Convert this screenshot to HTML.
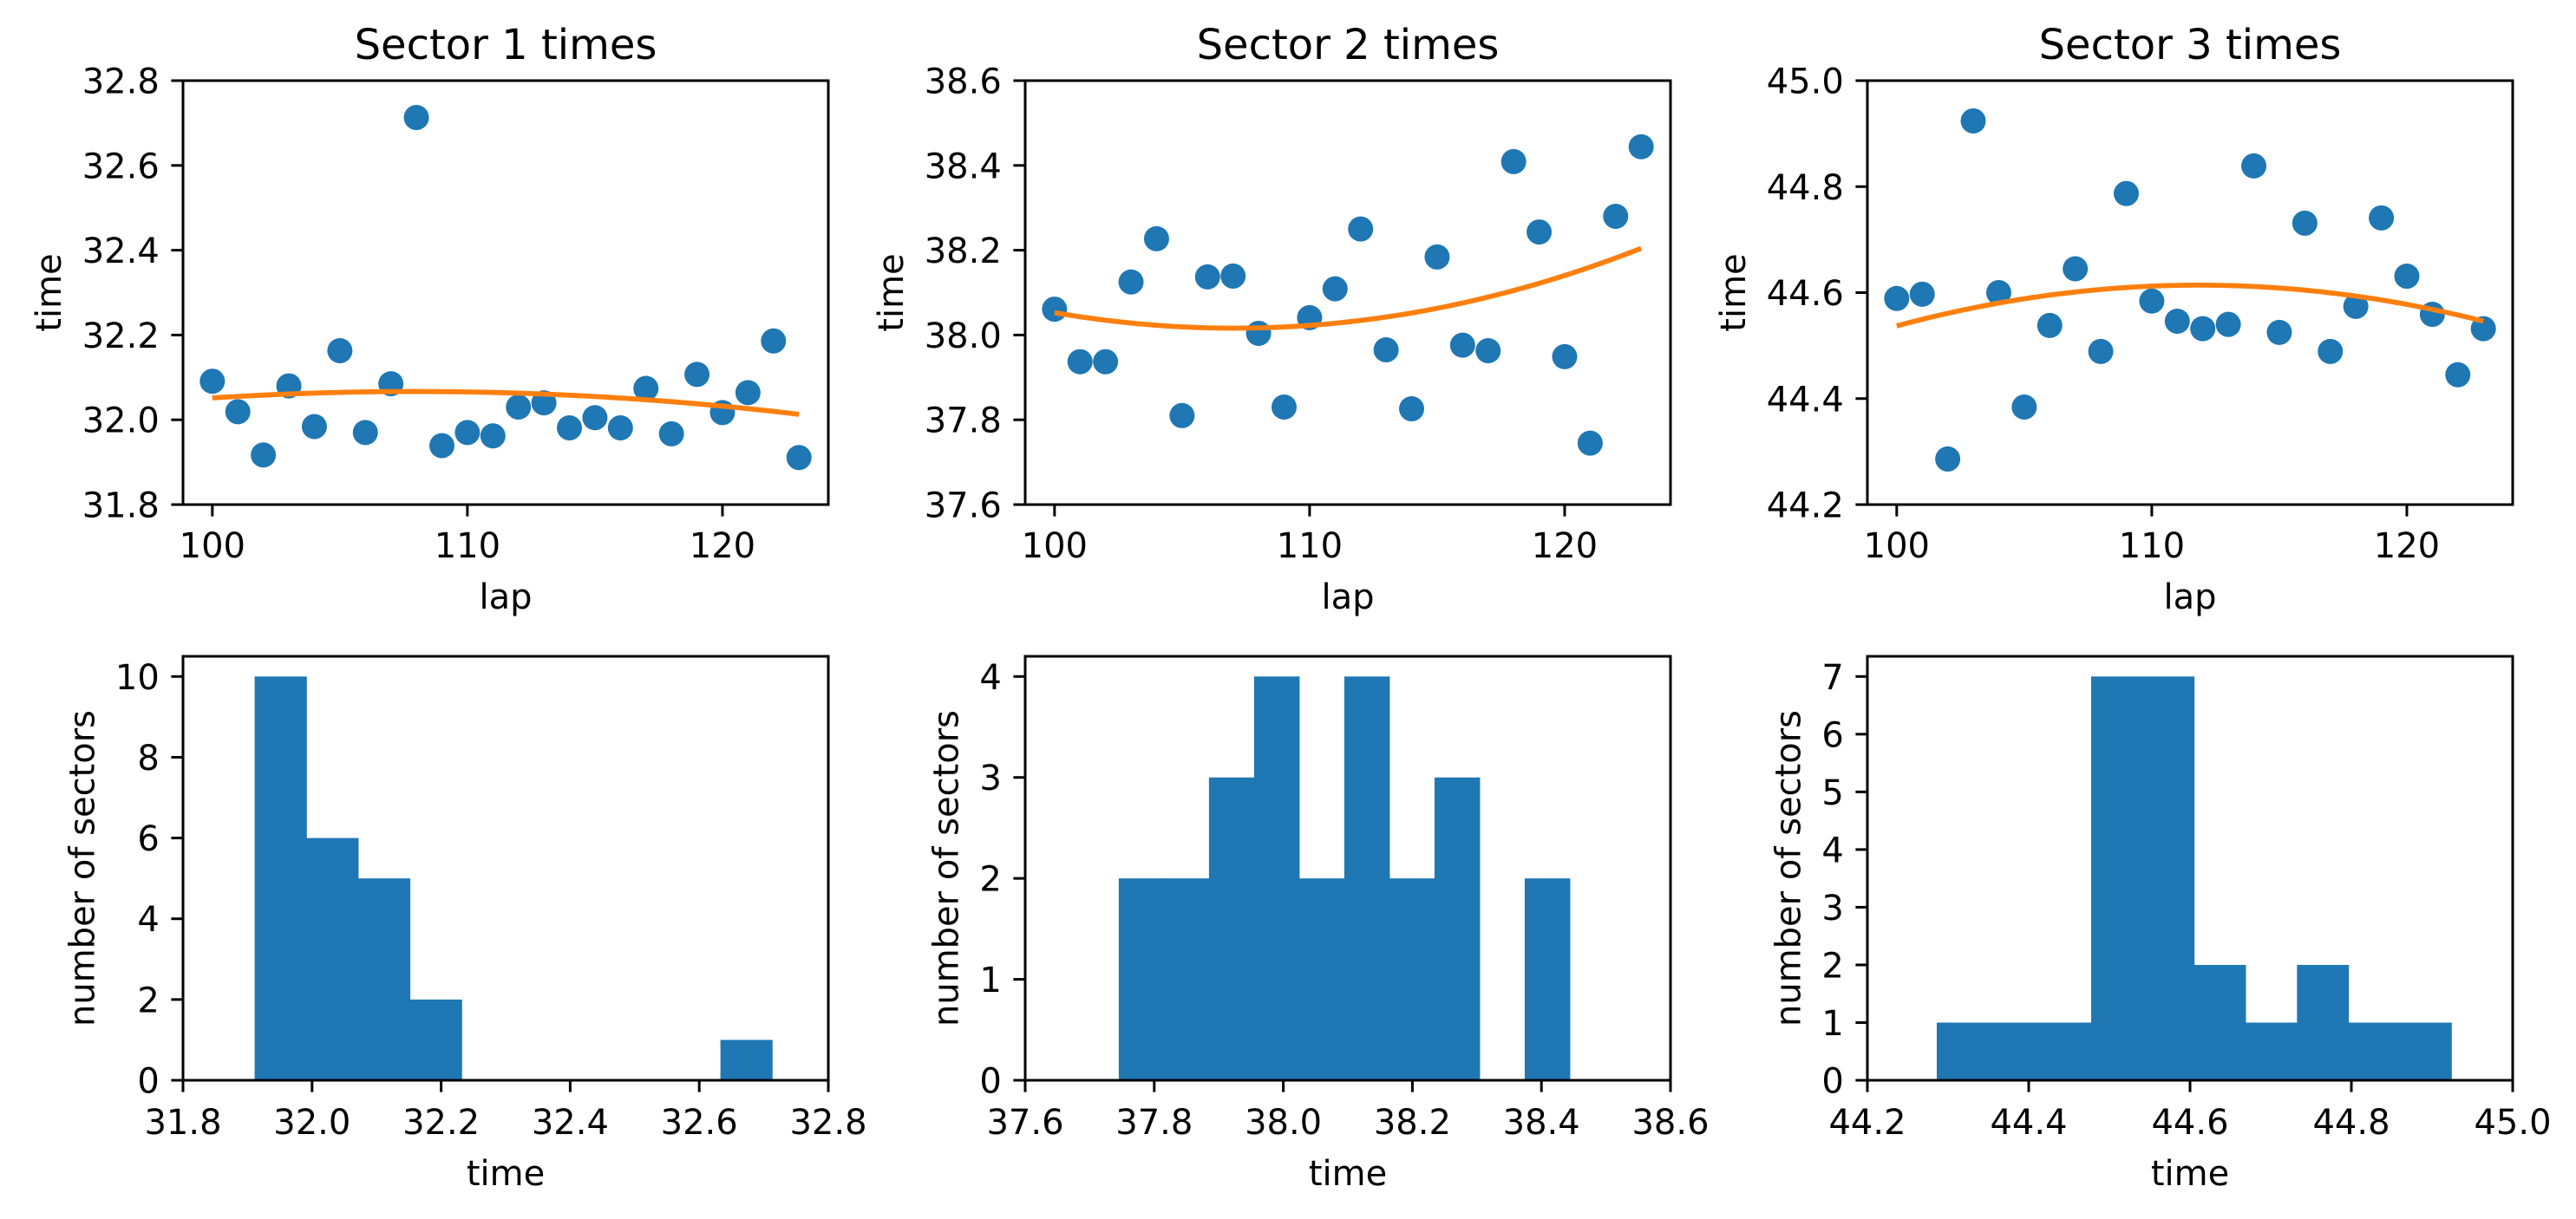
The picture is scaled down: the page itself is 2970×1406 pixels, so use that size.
<!DOCTYPE html>
<html><head><meta charset="utf-8"><style>
html,body{margin:0;padding:0;background:#fff;}
svg{display:block;font-family:"DejaVu Sans","Liberation Sans",sans-serif;}
</style></head><body>
<svg id="fig" width="2970" height="1406" viewBox="0 0 2970 1406" xmlns="http://www.w3.org/2000/svg"></svg>
<script>
const laps = [100,101,102,103,104,105,106,107,108,109,110,111,112,113,114,115,116,117,118,119,120,121,122,123];
const sector1Times = [32.091,32.019,31.917,32.080,31.984,32.163,31.970,32.085,32.713,31.939,31.970,31.962,32.030,32.040,31.981,32.005,31.981,32.074,31.967,32.107,32.017,32.064,32.186,31.911];
const sector2Times = [38.061,37.937,37.937,38.125,38.227,37.810,38.137,38.139,38.004,37.830,38.041,38.109,38.250,37.965,37.826,38.184,37.976,37.963,38.409,38.243,37.949,37.745,38.280,38.444];
const sector3Times = [44.589,44.597,44.286,44.924,44.600,44.384,44.538,44.645,44.489,44.787,44.584,44.546,44.532,44.540,44.839,44.525,44.731,44.489,44.574,44.741,44.631,44.559,44.445,44.532];
const sectorTitles = ["Sector 1 times","Sector 2 times","Sector 3 times"];
const lapTicks = [100,110,120];
const timeRanges = [[31.8,32.8],[37.6,38.6],[44.2,45.0]];
const timeTickLabels = [["31.8","32.0","32.2","32.4","32.6","32.8"],["37.6","37.8","38.0","38.2","38.4","38.6"],["44.2","44.4","44.6","44.8","45.0"]];
const countTicks = [[0,2,4,6,8,10],[0,1,2,3,4],[0,1,2,3,4,5,6,7]];
const binCount = 10;

const NS="http://www.w3.org/2000/svg";
const svg=document.getElementById('fig');
const BLUE="#1f77b4", ORANGE="#ff7f0e";
const FS=40, TFS=48, TICK=13.6, PAD=13.6;
const colX=[211,1182,2153], AW=744, rowY=[93,757], AH=489;

function mk(tag,attrs,parent){const e=document.createElementNS(NS,tag);for(const k in attrs)e.setAttribute(k,attrs[k]);(parent||svg).appendChild(e);return e;}
function txt(s,attrs,parent){const e=mk('text',attrs,parent);e.textContent=s;return e;}

function polyfit2(xs,ys){
  let S=[0,0,0,0,0],T=[0,0,0];
  for(let i=0;i<xs.length;i++){let x=xs[i]-111.5,p=1;for(let k=0;k<5;k++){S[k]+=p;if(k<3)T[k]+=p*ys[i];p*=x;}}
  const A=[[S[0],S[1],S[2],T[0]],[S[1],S[2],S[3],T[1]],[S[2],S[3],S[4],T[2]]];
  for(let i=0;i<3;i++){for(let j=i+1;j<3;j++){const f=A[j][i]/A[i][i];for(let k=i;k<4;k++)A[j][k]-=f*A[i][k];}}
  const c=[0,0,0];for(let i=2;i>=0;i--){let s=A[i][3];for(let k=i+1;k<3;k++)s-=A[i][k]*c[k];c[i]=s/A[i][i];}
  return x=>{const t=x-111.5;return c[0]+c[1]*t+c[2]*t*t;};
}

function yLabel(g,label,left,top,maxW){
  const x=left-TICK-PAD-maxW-15.6-9;
  const t=txt(label,{x:x,y:top+AH/2,'font-size':FS,'text-anchor':'middle',transform:`rotate(-90 ${x} ${top+AH/2})`},g);
  
  
}

const allTimes=[sector1Times,sector2Times,sector3Times];
allTimes.forEach((times,si)=>{
  const L=colX[si], T0=rowY[0], T1=rowY[1];
  const [tmin,tmax]=timeRanges[si];
  // ---------- scatter ----------
  const g=mk('g',{});
  
  
  const xmin=laps[0]-(laps[laps.length-1]-laps[0])*0.05, xmax=laps[laps.length-1]+(laps[laps.length-1]-laps[0])*0.05;
  const sx=v=>L+(v-xmin)/(xmax-xmin)*AW;
  const sy=v=>T0+AH-(v-tmin)/(tmax-tmin)*AH;
  const clipId='c'+si;
  const cp=mk('clipPath',{id:clipId},g);mk('rect',{x:L,y:T0,width:AW,height:AH},cp);
  const fit=polyfit2(laps,times);
  const pg=mk('g',{'clip-path':`url(#${clipId})`},g);
  laps.forEach((lp,i)=>{
    const c=mk('circle',{cx:sx(lp),cy:sy(times[i]),r:14.5,fill:BLUE},pg);
    
    
  });
  let d='';for(let k=0;k<=100;k++){const x=laps[0]+(laps[laps.length-1]-laps[0])*k/100;d+=(k?'L':'M')+sx(x).toFixed(2)+','+sy(fit(x)).toFixed(2);}
  const fl=mk('path',{d:d,fill:'none',stroke:ORANGE,'stroke-width':5.8},pg);
  
  
  mk('rect',{x:L,y:T0,width:AW,height:AH,fill:'none',stroke:'#000','stroke-width':3},g);
  lapTicks.forEach(v=>{
    const x=sx(v);mk('line',{x1:x,x2:x,y1:T0+AH,y2:T0+AH+TICK,stroke:'#000','stroke-width':3},g);
    const t=txt(String(v),{x:x,y:T0+AH+61,'font-size':FS,'text-anchor':'middle'},g);
    
    
  });
  let maxW=0;
  timeTickLabels[si].forEach(s=>{
    const v=parseFloat(s),y=sy(v);
    mk('line',{x1:L-TICK,x2:L,y1:y,y2:y,stroke:'#000','stroke-width':3},g);
    const t=txt(s,{x:L-TICK-PAD,y:y+14.5,'font-size':FS,'text-anchor':'end'},g);
    
    
    maxW=Math.max(maxW,t.getComputedTextLength());
  });
  const ti=txt(sectorTitles[si],{x:L+AW/2,y:T0-25,'font-size':TFS,'text-anchor':'middle'},g);
  
  
  const xl=txt('lap',{x:L+AW/2,y:T0+AH+120,'font-size':FS,'text-anchor':'middle'},g);
  
  
  yLabel(g,'time',L,T0,maxW);

  // ---------- histogram ----------
  const h=mk('g',{});
  
  
  const mn=Math.min(...times), mx=Math.max(...times), bw=(mx-mn)/binCount;
  const counts=new Array(binCount).fill(0);
  times.forEach(t=>{let b=Math.floor((t-mn)/bw);if(b>=binCount)b=binCount-1;counts[b]++;});
  const cmax=Math.max(...counts)*1.05;
  const hx=v=>L+(v-tmin)/(tmax-tmin)*AW;
  const hy=v=>T1+AH-v/cmax*AH;
  counts.forEach((c,b)=>{
    if(!c)return;
    const x0=hx(mn+b*bw),x1=hx(mn+(b+1)*bw);
    const r=mk('rect',{x:x0,y:hy(c),width:x1-x0+0.5,height:hy(0)-hy(c),fill:BLUE},h);
    
    
  });
  mk('rect',{x:L,y:T1,width:AW,height:AH,fill:'none',stroke:'#000','stroke-width':3},h);
  timeTickLabels[si].forEach(s=>{
    const x=hx(parseFloat(s));
    mk('line',{x1:x,x2:x,y1:T1+AH,y2:T1+AH+TICK,stroke:'#000','stroke-width':3},h);
    const t=txt(s,{x:x,y:T1+AH+62,'font-size':FS,'text-anchor':'middle'},h);
    
    
  });
  let mw=0;
  countTicks[si].forEach(v=>{
    const y=hy(v);
    mk('line',{x1:L-TICK,x2:L,y1:y,y2:y,stroke:'#000','stroke-width':3},h);
    const t=txt(String(v),{x:L-TICK-PAD,y:y+14.5,'font-size':FS,'text-anchor':'end'},h);
    
    
    mw=Math.max(mw,t.getComputedTextLength());
  });
  const hl=txt('time',{x:L+AW/2,y:T1+AH+121,'font-size':FS,'text-anchor':'middle'},h);
  
  
  yLabel(h,'number of sectors',L,T1,mw);
});
</script>
</body></html>
